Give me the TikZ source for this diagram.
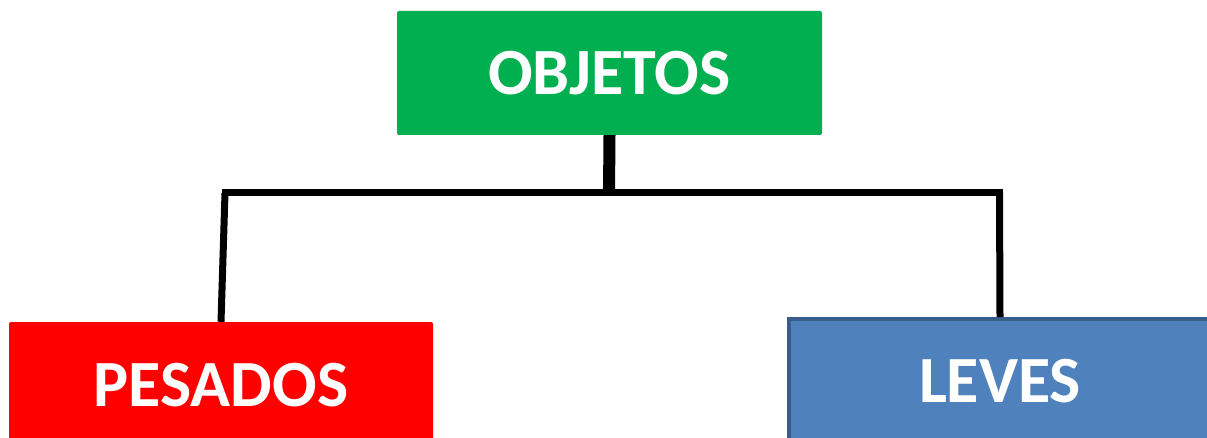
\documentclass[tikz,border=0pt]{standalone}
\usepackage{fontspec}
\setmainfont{Carlito}
\definecolor{objgreen}{HTML}{00B050}
\definecolor{pesred}{HTML}{FF0000}
\definecolor{levblue}{HTML}{4F81BD}
\definecolor{levborder}{HTML}{385D8A}
\tikzset{
  box/.style={rectangle, inner sep=0pt, text=white,
    font=\fontsize{66}{78}\selectfont\bfseries},
  conn/.style={draw=black, line width=7pt}
}
\begin{document}
\begin{tikzpicture}[x=1pt,y=-1pt]
\useasboundingbox (0,0) rectangle (1207,438);
\clip (0,0) rectangle (1207,438);
\node[box, fill=objgreen, rounded corners=2pt, minimum width=425pt, minimum height=124pt] (obj) at (609.5,73) {OBJETOS};
\node[box, fill=pesred, rounded corners=2pt, minimum width=424pt, minimum height=126pt] (pes) at (221,385) {PESADOS};
\node[box, fill=levblue, draw=levborder, line width=4pt, minimum width=422pt, minimum height=124pt] (lev) at (1000,381) {LEVES};
\coordinate (mid) at (609,193);
\coordinate (hl) at (222,193);
\coordinate (hr) at (1003,193);
\coordinate (lt) at (225,193);
\coordinate (rt) at (999.5,193);
\draw[line width=12pt] (obj.south) -- (mid);
\draw[conn] (hl) -- (hr);
\draw[conn] (lt) -- (pes.north);
\draw[conn] (rt) -- (lev.north);
\end{tikzpicture}
\end{document}
